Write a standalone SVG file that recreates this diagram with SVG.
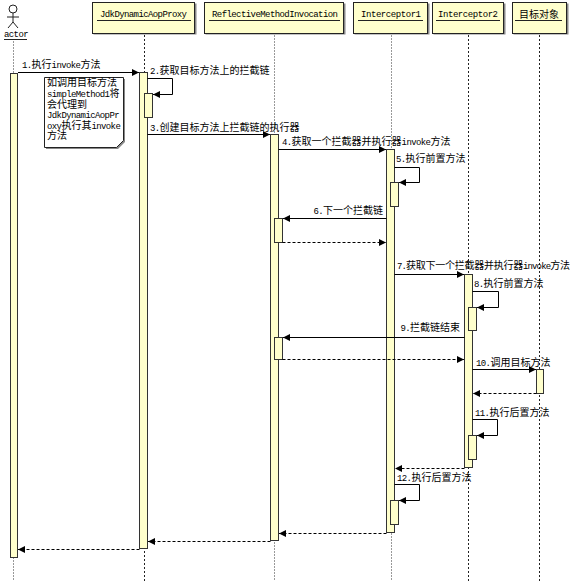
<svg xmlns="http://www.w3.org/2000/svg" width="572" height="581" viewBox="0 0 572 581">
<defs>
<style>
.bg{fill:#fff}
.hdr{fill:#ffffcc;stroke:#222;stroke-width:1}
.shd{fill:#888}
.ul{stroke:#222;stroke-width:1}
.lifeD{stroke:#222;stroke-width:1;stroke-dasharray:2,2;fill:none}
.lifeG{stroke:#999;stroke-width:1;stroke-dasharray:2,1;fill:none}
.act{fill:#ffffcc;stroke:#333;stroke-width:1}
.msg{stroke:#000;stroke-width:1;fill:none}
.ret{stroke:#000;stroke-width:1;fill:none;stroke-dasharray:3,2}
.t{font-family:"Liberation Mono","Noto Sans CJK SC",monospace;font-size:9px;letter-spacing:-0.6px;fill:#000}
.h{font-family:"Liberation Mono",monospace;font-size:9px;fill:#000}
.c{font-family:"Noto Sans CJK SC",sans-serif;font-size:10px;letter-spacing:0}
.note{fill:#fff;stroke:#222;stroke-width:1}
</style>
<marker id="ah" markerWidth="7" markerHeight="7" refX="7" refY="3.5" orient="auto" markerUnits="userSpaceOnUse">
<path d="M0,0 L7,3.5 L0,7 z" fill="#000"/>
</marker>
</defs>
<rect class="bg" x="0" y="0" width="572" height="581"/>

<g id="actor">
<circle cx="13" cy="9" r="4" fill="#fff" stroke="#222"/>
<path d="M13,13 V22 M7,17 H19 M13,22 L8,28 M13,22 L18,28" stroke="#222" fill="none"/>
<text class="t" x="4" y="37">actor</text>
<line class="ul" x1="4" y1="39.5" x2="27" y2="39.5"/>
<line class="lifeG" x1="13.5" y1="41" x2="13.5" y2="581"/>
<rect class="act" x="10.5" y="73.5" width="7" height="484"/>
</g>

<g id="jdk">
<rect class="shd" x="93.5" y="3.5" width="103" height="31"/>
<rect class="hdr" x="92.5" y="2.5" width="102" height="31"/>
<text class="h" x="100" y="17" textLength="87">JdkDynamicAopProxy</text>
<line class="ul" x1="97" y1="20.5" x2="191" y2="20.5"/>
<line class="lifeD" x1="144.5" y1="35" x2="144.5" y2="581"/>
<rect class="act" x="139.5" y="72.5" width="8" height="476"/>
<rect class="act" x="144.5" y="93.5" width="8" height="24"/>
</g>

<g id="reflective">
<rect class="shd" x="205.5" y="3.5" width="140" height="31"/>
<rect class="hdr" x="204.5" y="2.5" width="139" height="31"/>
<text class="h" x="212" y="17" textLength="126">ReflectiveMethodInvocation</text>
<line class="ul" x1="209" y1="20.5" x2="340" y2="20.5"/>
<line class="lifeG" x1="274.5" y1="35" x2="274.5" y2="581"/>
<rect class="act" x="270.5" y="134.5" width="8" height="406"/>
<rect class="act" x="274.5" y="218.5" width="8" height="24"/>
<rect class="act" x="274.5" y="337.5" width="8" height="22"/>
</g>

<g id="interceptor1">
<rect class="shd" x="354.5" y="3.5" width="75" height="31"/>
<rect class="hdr" x="353.5" y="2.5" width="74" height="31"/>
<text class="h" x="361" y="17" textLength="60">Interceptor1</text>
<line class="ul" x1="358" y1="20.5" x2="423" y2="20.5"/>
<line class="lifeG" x1="391.5" y1="35" x2="391.5" y2="581"/>
<rect class="act" x="386.5" y="149.5" width="8" height="383"/>
<rect class="act" x="390.5" y="182.5" width="8" height="24"/>
<rect class="act" x="390.5" y="500.5" width="8" height="24"/>
</g>

<g id="interceptor2">
<rect class="shd" x="433.5" y="3.5" width="72" height="31"/>
<rect class="hdr" x="432.5" y="2.5" width="71" height="31"/>
<text class="h" x="438" y="17" textLength="60">Interceptor2</text>
<line class="ul" x1="436" y1="20.5" x2="500" y2="20.5"/>
<line class="lifeD" x1="468.5" y1="35" x2="468.5" y2="581"/>
<rect class="act" x="464.5" y="274.5" width="8" height="193"/>
<rect class="act" x="468.5" y="307.5" width="8" height="23"/>
<rect class="act" x="468.5" y="435.5" width="8" height="24"/>
</g>

<g id="target">
<rect class="shd" x="513.5" y="3.5" width="55" height="31"/>
<rect class="hdr" x="512.5" y="2.5" width="54" height="31"/>
<text class="t" x="519" y="18"><tspan class="c">目标对象</tspan></text>
<line class="ul" x1="515" y1="20.5" x2="562" y2="20.5"/>
<line class="lifeD" x1="539.5" y1="35" x2="539.5" y2="581"/>
<rect class="act" x="536.5" y="369.5" width="7" height="24"/>
</g>

<g id="note">
<polygon class="shd" points="46,79 125,79 125,142 118,149 46,149"/>
<polygon class="note" points="44.5,77.5 123.5,77.5 123.5,140.5 116.5,147.5 44.5,147.5"/>
<text class="t" x="47" y="86"><tspan class="c">如调用目标方法</tspan></text>
<text class="t" x="47" y="97">simpleMethod1<tspan class="c">将</tspan></text>
<text class="t" x="47" y="108"><tspan class="c">会代理到</tspan></text>
<text class="t" x="47" y="118">JdkDynamicAopPr</text>
<text class="t" x="47" y="129">oxy<tspan class="c">执行其</tspan>invoke</text>
<text class="t" x="47" y="139"><tspan class="c">方法</tspan></text>
</g>

<g id="connectors">
<line class="msg" x1="18" y1="72.5" x2="139" y2="72.5" marker-end="url(#ah)"/>
<text class="t" x="22" y="68">1.<tspan class="c">执行</tspan>invoke<tspan class="c">方法</tspan></text>

<polyline class="msg" points="147.5,78.5 172.5,78.5 172.5,94.5 153,94.5" marker-end="url(#ah)"/>
<text class="t" x="150" y="74">2.<tspan class="c">获取目标方法上的拦截链</tspan></text>

<line class="msg" x1="147.5" y1="134.5" x2="270" y2="134.5" marker-end="url(#ah)"/>
<text class="t" x="150" y="131">3.<tspan class="c">创建目标方法上拦截链的执行器</tspan></text>

<line class="msg" x1="278.5" y1="149.5" x2="386" y2="149.5" marker-end="url(#ah)"/>
<text class="t" x="282" y="145">4.<tspan class="c">获取一个拦截器并执行器</tspan>invoke<tspan class="c">方法</tspan></text>

<polyline class="msg" points="394.5,167.5 419.5,167.5 419.5,182.5 399,182.5" marker-end="url(#ah)"/>
<text class="t" x="396" y="162">5.<tspan class="c">执行前置方法</tspan></text>

<line class="msg" x1="386.5" y1="218.5" x2="283" y2="218.5" marker-end="url(#ah)"/>
<text class="t" x="383" y="214" text-anchor="end">6.<tspan class="c">下一个拦截链</tspan></text>
<line class="ret" x1="282.5" y1="242.5" x2="386" y2="242.5" marker-end="url(#ah)"/>

<line class="msg" x1="394.5" y1="274.5" x2="464" y2="274.5" marker-end="url(#ah)"/>
<text class="t" x="397" y="269" textLength="173">7.<tspan class="c">获取下一个拦截器并执行器</tspan>invoke<tspan class="c">方法</tspan></text>

<polyline class="msg" points="472.5,291.5 498.5,291.5 498.5,307.5 477,307.5" marker-end="url(#ah)"/>
<text class="t" x="474" y="287">8.<tspan class="c">执行前置方法</tspan></text>

<line class="msg" x1="464.5" y1="337.5" x2="283" y2="337.5" marker-end="url(#ah)"/>
<text class="t" x="460" y="331" text-anchor="end">9.<tspan class="c">拦截链结束</tspan></text>
<line class="ret" x1="282.5" y1="359.5" x2="464" y2="359.5" marker-end="url(#ah)"/>

<line class="msg" x1="472.5" y1="369.5" x2="536" y2="369.5" marker-end="url(#ah)"/>
<text class="t" x="476" y="366">10.<tspan class="c">调用目标方法</tspan></text>
<line class="ret" x1="536.5" y1="393.5" x2="473" y2="393.5" marker-end="url(#ah)"/>

<polyline class="msg" points="472.5,419.5 497.5,419.5 497.5,435.5 477,435.5" marker-end="url(#ah)"/>
<text class="t" x="475" y="416">11.<tspan class="c">执行后置方法</tspan></text>

<line class="ret" x1="464.5" y1="468.5" x2="395" y2="468.5" marker-end="url(#ah)"/>

<polyline class="msg" points="394.5,484.5 419.5,484.5 419.5,500.5 399,500.5" marker-end="url(#ah)"/>
<text class="t" x="397" y="481">12.<tspan class="c">执行后置方法</tspan></text>

<line class="ret" x1="386.5" y1="533.5" x2="279" y2="533.5" marker-end="url(#ah)"/>
<line class="ret" x1="270.5" y1="541.5" x2="148" y2="541.5" marker-end="url(#ah)"/>
<line class="ret" x1="139.5" y1="549.5" x2="18" y2="549.5" marker-end="url(#ah)"/>
</g>
</svg>
